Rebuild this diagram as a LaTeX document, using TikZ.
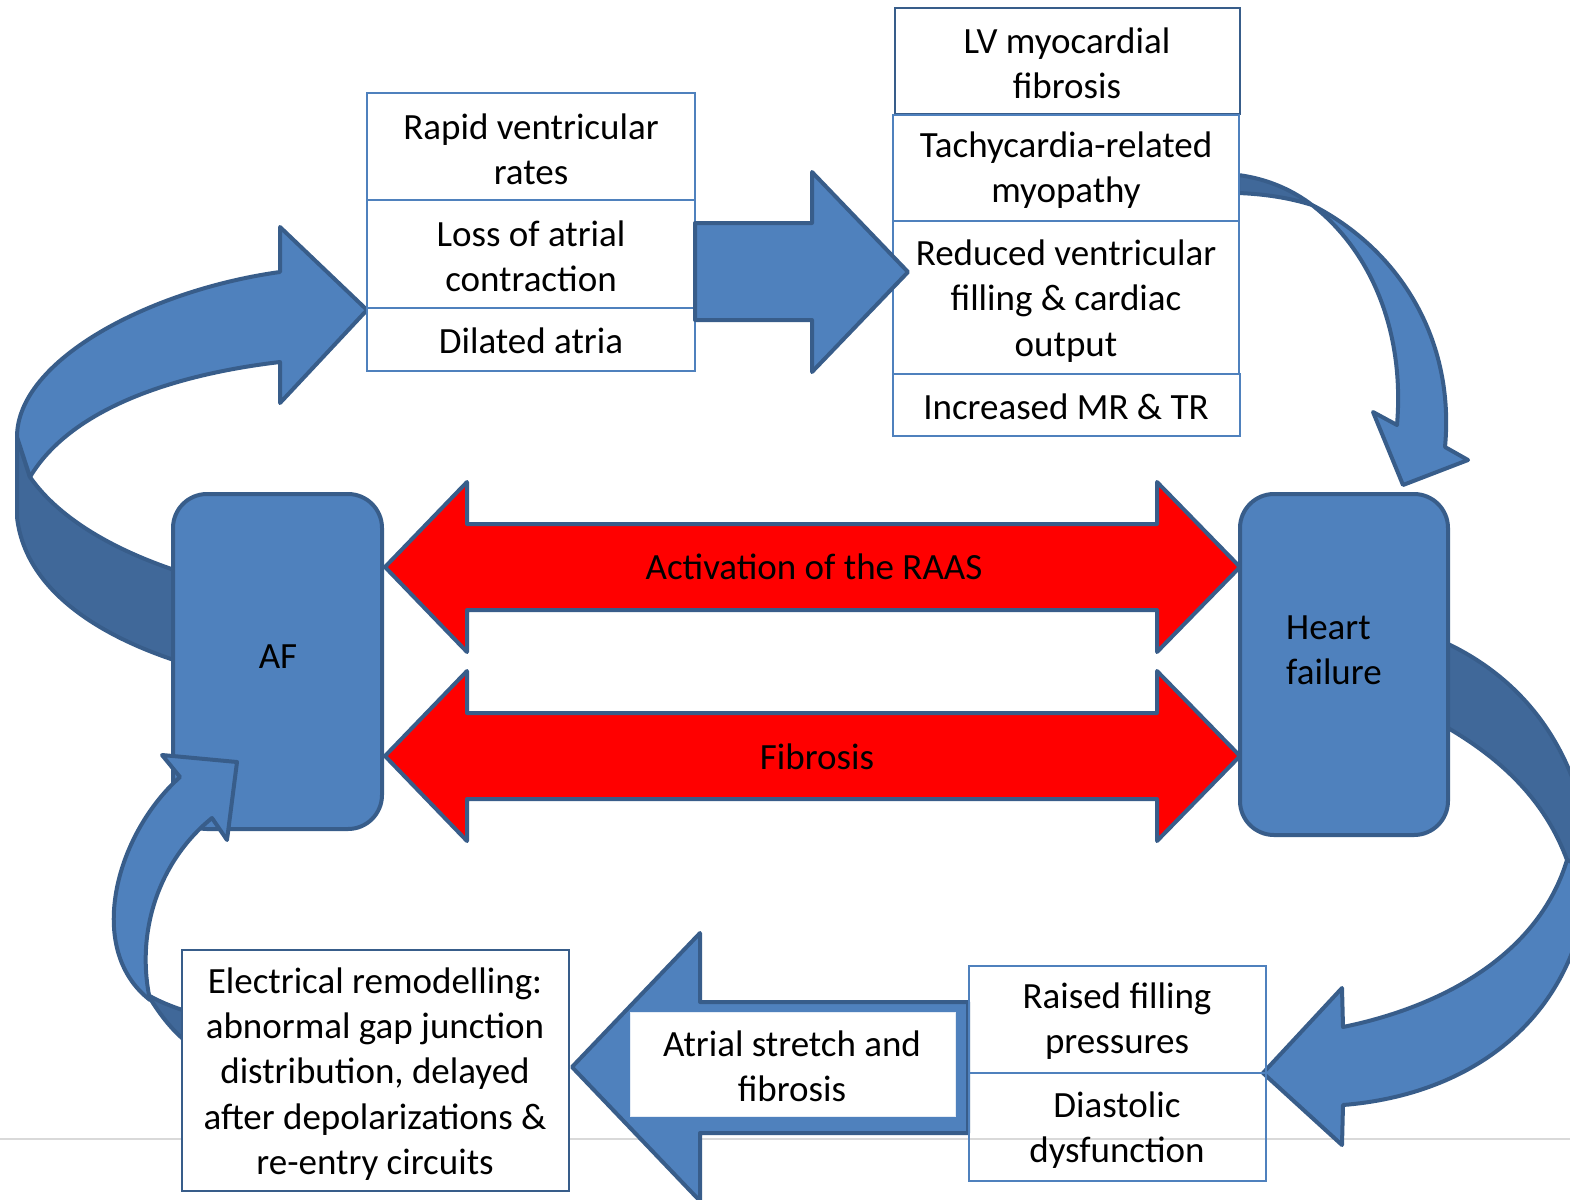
\documentclass[tikz,border=0pt]{standalone}
\usepackage{fontspec}
\setmainfont{Carlito}
\usetikzlibrary{fit}
\definecolor{shapeblue}{HTML}{4F81BD}
\definecolor{shadeblue}{HTML}{406899}
\definecolor{edgeblue}{HTML}{385D8A}
\definecolor{cellblue}{HTML}{4F81BD}
\definecolor{rulegray}{HTML}{D9D9D9}
\definecolor{raasred}{HTML}{FF0000}
\begin{document}
\begin{tikzpicture}[x=0.5pt,y=-0.5pt,
  txt/.style={font=\fontsize{18.5}{22.6}\selectfont, align=center, text=black, inner sep=0pt},
  cell/.style={draw=cellblue, line width=1pt, fill=white, inner sep=0pt},
  cellclear/.style={draw=cellblue, line width=1pt, inner sep=0pt},
  celldark/.style={draw=edgeblue, line width=1pt, fill=white, inner sep=0pt},
  hub/.style={draw=edgeblue, line width=2pt, fill=shapeblue, rounded corners=17pt, inner sep=0pt},
  front/.style={draw=edgeblue, line width=2pt, fill=shapeblue, line join=round},
  back/.style={draw=edgeblue, line width=2pt, fill=shadeblue, line join=round},
  redarrow/.style={draw=edgeblue, line width=2pt, fill=raasred, line join=round},
]
\useasboundingbox (0,0) rectangle (1570,1200);
\begin{scope}
\clip (0,0) rectangle (1570,1200);

% thin rule across the lower part
\coordinate (ruleL) at (0,1139);
\coordinate (ruleR) at (1570,1139);
\draw[rulegray, line width=1pt] (ruleL) -- (ruleR);

% curved arrow from AF up to the atrial factors
\draw[back] (17,437) -- (17,517) .. controls (25,590) and (100,640) .. (200,668)
  -- (200,578) .. controls (120,555) and (60,520) .. (30,477) -- cycle;
\draw[front] (280,362) -- (280,403) -- (367,310) -- (280,227) -- (280,272)
  .. controls (150,290) and (17,360) .. (17,437) -- (30,477)
  .. controls (70,410) and (170,375) .. (280,362) -- cycle;

% AF hub
\node[hub, fit={(173,494) (382,829)}] (af) {};
\node[txt] (aflabel) at (278,657) {AF};

% curved arrow from the electrical remodelling box back to AF
\draw[back] (148,995) .. controls (160,1015) and (175,1035) .. (195,1048)
  -- (195,1014) .. controls (175,1008) and (160,1002) .. (148,995) -- cycle;
\node[celldark, fit={(182,950) (569,1191)}] (elec) {};
\node[txt] (electext) at (375,1074)
  {Electrical remodelling:\\abnormal gap junction\\distribution, delayed\\after depolarizations \&\\re-entry circuits};
\draw[front] (180,777) .. controls (115,835) and (85,950) .. (150,1000)
  .. controls (135,930) and (160,860) .. (212,818) -- (227,840) -- (237,762) -- (162,755) -- cycle;

% curved arrow from heart failure down to the filling pressures
\draw[back] (1430,636) .. controls (1510,668) and (1565,730) .. (1585,820) -- (1590,870) -- (1567,860)
  .. controls (1545,800) and (1500,755) .. (1430,718) -- cycle;
\draw[front] (1567,860) .. controls (1540,950) and (1450,1005) .. (1343,1027)
  -- (1342,988) -- (1263,1073) -- (1342,1145) -- (1343,1105)
  .. controls (1470,1095) and (1580,1020) .. (1590,870) -- cycle;

% heart failure hub
\node[hub, fit={(1240,494) (1448,835)}] (hf) {};
\node[txt, align=left] (hflabel) at (1334,650) {Heart\\failure};

% curved arrow from the ventricular factors down to heart failure
\draw[back] (1238,175) .. controls (1270,179) and (1295,192) .. (1312,205)
  .. controls (1290,198) and (1265,194) .. (1238,193) -- cycle;
\draw[front] (1312,205) .. controls (1400,250) and (1455,340) .. (1445,447)
  -- (1468,460) -- (1403,485) -- (1373,412) -- (1397,425)
  .. controls (1405,330) and (1370,250) .. (1312,205) -- cycle;

% ventricular factors
\node[celldark, fit={(895,8) (1240,114)}] (lvfib) {};
\node[txt] (lvfibtext) at (1067,63) {LV myocardial\\fibrosis};
\node[cell, fit={(893,115) (1239,221)}] (tachy) {};
\node[txt] (tachytext) at (1066,170) {Tachycardia-related\\myopathy};
\node[cell, fit={(893,221) (1239,374)}] (filling) {};
\node[txt] (fillingtext) at (1066,301) {Reduced ventricular\\filling \& cardiac\\output};
\node[cell, fit={(893,374) (1240,436)}] (mrtr) {};
\node[txt] (mrtrtext) at (1066,407) {Increased MR \& TR};

% atrial factors
\node[cell, fit={(367,93) (695,200)}] (rapid) {};
\node[txt] (rapidtext) at (531,149) {Rapid ventricular\\rates};
\node[cell, fit={(367,200) (695,308)}] (loss) {};
\node[txt] (losstext) at (531,256) {Loss of atrial\\contraction};
\node[cell, fit={(367,308) (695,371)}] (dilated) {};
\node[txt] (dilatedtext) at (531,341) {Dilated atria};

% straight arrow between the two stacks
\draw[front] (695,223) -- (812,223) -- (812,172) -- (908,272) -- (812,372) -- (812,320) -- (695,320) -- cycle;

% two-headed red arrows between the hubs
\draw[redarrow] (385,567) -- (467,482) -- (467,524) -- (1157,524) -- (1157,482) -- (1240,567)
  -- (1157,652) -- (1157,610) -- (467,610) -- (467,652) -- cycle;
\node[txt] (raas) at (814,567) {Activation of the RAAS};
\draw[redarrow] (385,756) -- (467,671) -- (467,713) -- (1157,713) -- (1157,671) -- (1240,756)
  -- (1157,841) -- (1157,799) -- (467,799) -- (467,841) -- cycle;
\node[txt] (fibrosis) at (817,757) {Fibrosis};

% straight arrow from the filling pressures to the electrical box
\draw[front] (968,1002) -- (700,1002) -- (700,933) -- (572,1067) -- (700,1201) -- (700,1133) -- (968,1133) -- cycle;
\node[draw=white!85!cellblue, line width=0.5pt, fill=white, inner sep=0pt, fit={(630,1012) (955,1116)}] (stretch) {};
\node[txt] (stretchtext) at (792,1066) {Atrial stretch and\\fibrosis};

% filling pressures
\node[cellclear, fit={(969,966) (1266,1073)}] (raised) {};
\node[txt] (raisedtext) at (1117,1021) {Raised filling\\pressures};
\node[cellclear, fit={(969,1073) (1266,1181)}] (diastolic) {};
\node[txt] (diastolictext) at (1117,1130) {Diastolic\\dysfunction};
\end{scope}
\end{tikzpicture}
\end{document}
